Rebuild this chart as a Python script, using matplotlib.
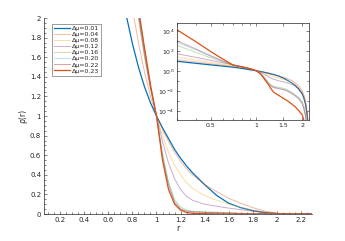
import numpy as np
import matplotlib.pyplot as plt
from matplotlib.ticker import MultipleLocator, FixedLocator, FixedFormatter, LogLocator, NullFormatter

# Datos
r = [0.3, 0.4, 0.5, 0.6, 0.7, 0.75, 0.8, 0.85, 0.9, 0.95, 1.0, 1.05, 1.1, 1.15, 1.2,
     1.25, 1.3, 1.4, 1.5, 1.6, 1.7, 1.8, 1.9, 2.0, 2.05, 2.1, 2.15, 2.2, 2.3]

dmu = [0.01, 0.04, 0.08, 0.12, 0.16, 0.20, 0.22, 0.23]

rho_001 = [8.9, 5.6, 3.9, 2.95, 2.3, 2.02, 1.74, 1.50, 1.30, 1.135, 1.0, 0.88, 0.77, 0.66, 0.57,
           0.49, 0.42, 0.30, 0.19, 0.11, 0.065, 0.035, 0.015, 0.005, 0.002, 5e-4, 5e-5, 1e-6, 1e-7]
rho_004 = [12.6, 7.5, 5.0, 3.6, 2.75, 2.45, 2.1, 1.75, 1.45, 1.2, 1.0, 0.86, 0.74, 0.63, 0.54,
           0.46, 0.40, 0.30, 0.23, 0.16, 0.11, 0.065, 0.03, 0.01, 0.004, 1e-3, 1e-4, 3e-6, 1e-7]
rho_008 = [23, 12, 7, 4.5, 3.2, 2.75, 2.35, 1.98, 1.6, 1.28, 1.0, 0.8, 0.63, 0.5, 0.4,
           0.32, 0.26, 0.19, 0.14, 0.10, 0.068, 0.04, 0.02, 0.007, 0.003, 8e-4, 8e-5, 2e-6, 1e-7]
rho_012 = [50, 22, 11, 6.3, 3.9, 3.1, 2.5, 2.02, 1.62, 1.28, 1.0, 0.74, 0.52, 0.36, 0.25,
           0.18, 0.14, 0.10, 0.08, 0.06, 0.045, 0.028, 0.014, 0.005, 0.002, 6e-4, 6e-5, 2e-6, 1e-7]
rho_016 = [355, 70, 20, 7.5, 3.6, 2.9, 2.4, 2.05, 1.65, 1.3, 1.0, 0.62, 0.33, 0.15, 0.07,
           0.04, 0.028, 0.022, 0.018, 0.013, 0.007, 0.004, 0.0022, 8e-4, 3e-4, 6e-5, 5e-6, 1e-7, 1e-8]
rho_020 = [710, 120, 28, 9, 3.8, 3.0, 2.45, 2.05, 1.66, 1.3, 1.0, 0.6, 0.31, 0.13, 0.055,
           0.032, 0.024, 0.019, 0.015, 0.011, 0.0065, 0.0035, 0.0018, 6e-4, 2e-4, 4e-5, 3e-6, 1e-7, 1e-8]
rho_022 = [1000, 150, 32, 9.5, 3.9, 3.05, 2.5, 2.06, 1.67, 1.3, 1.0, 0.58, 0.29, 0.12, 0.048,
           0.028, 0.021, 0.016, 0.013, 0.009, 0.0055, 0.003, 0.0015, 5e-4, 1.5e-4, 3e-5, 2e-6, 1e-7, 1e-8]
rho_023 = [12600, 800, 85, 15, 3.9, 3.1, 2.55, 2.1, 1.7, 1.32, 1.0, 0.55, 0.25, 0.1, 0.04,
           0.015, 0.007, 0.0035, 0.0018, 0.001, 5e-4, 2.5e-4, 1e-4, 4e-5, 1.2e-5, 1e-6, 1e-7, 1e-8, 1e-9]

series = [rho_001, rho_004, rho_008, rho_012, rho_016, rho_020, rho_022, rho_023]

# Colores por defecto de MATLAB
colores = ['#0072BD', '#D95319', '#EDB120', '#7E2F8E', '#77AC30', '#4DBEEE', '#A2142F', '#D95319']
alfas = [1, 0.4, 0.4, 0.4, 0.4, 0.4, 0.4, 1]
anchos = [0.9, 0.7, 0.7, 0.7, 0.7, 0.7, 0.7, 0.9]

gris = '#262626'
plt.rcParams['font.family'] = 'DejaVu Sans'
plt.rcParams['axes.edgecolor'] = gris
plt.rcParams['xtick.color'] = gris
plt.rcParams['ytick.color'] = gris

fig = plt.figure(figsize=(3.45, 2.41), dpi=100)

# Grafica principal
ax = fig.add_axes([0.1275, 0.112, 0.776, 0.813])
for rho, c, a, w, d in zip(series, colores, alfas, anchos, dmu):
    ax.plot(r, rho, color=c, alpha=a, lw=w, label='Δμ=%.2f' % d)

ax.set_xlim(0.065, 2.29)
ax.set_ylim(0, 2)
ax.spines['top'].set_visible(False)
ax.spines['right'].set_visible(False)
for s in ['left', 'bottom']:
    ax.spines[s].set_linewidth(0.5)
ax.xaxis.set_major_locator(MultipleLocator(0.2))
ax.yaxis.set_major_locator(MultipleLocator(0.2))
ax.xaxis.set_minor_locator(MultipleLocator(0.05))
ax.yaxis.set_minor_locator(MultipleLocator(0.05))
ax.xaxis.set_major_formatter(lambda v, p: ('%g' % round(v, 2)) if v > 0.01 else '')
ax.yaxis.set_major_formatter(lambda v, p: '%g' % round(v, 2))
ax.tick_params(which='both', direction='in', labelsize=5, width=0.4, pad=2)
ax.tick_params(which='major', length=2.5)
ax.tick_params(which='minor', length=1.3)
ax.set_xlabel('r', fontsize=5.5, color=gris, labelpad=1)
ax.set_ylabel('ρ(r)', fontsize=5.5, color=gris, labelpad=2)

leg = ax.legend(loc='upper left', bbox_to_anchor=(0.03, 0.972), fontsize=4.5,
                frameon=True, fancybox=False, handlelength=2.6, handletextpad=0.3,
                labelspacing=0.12, borderpad=0.3, borderaxespad=0)
leg.get_frame().set_edgecolor(gris)
leg.get_frame().set_linewidth(0.4)
for t in leg.get_texts():
    t.set_color(gris)

# Recuadro log-log
ins = fig.add_axes([0.513, 0.502, 0.383, 0.4025])
for rho, c, a, w in zip(series, colores, alfas, anchos):
    ins.plot(r, rho, color=c, alpha=a, lw=w)
ins.set_xscale('log')
ins.set_yscale('log')
ins.set_xlim(0.3, 2.22)
ins.set_ylim(1.2e-5, 6e4)
ins.xaxis.set_major_locator(FixedLocator([0.5, 1, 1.5, 2]))
ins.xaxis.set_major_formatter(FixedFormatter(['0.5', '1', '1.5', '2']))
ins.xaxis.set_minor_locator(FixedLocator([0.3, 0.4, 0.6, 0.7, 0.8, 0.9]))
ins.xaxis.set_minor_formatter(NullFormatter())
ins.yaxis.set_major_locator(FixedLocator([1e-4, 1e-2, 1, 1e2, 1e4]))
ins.yaxis.set_minor_locator(LogLocator(base=10, subs=[1.0], numticks=20))
ins.yaxis.set_minor_formatter(NullFormatter())
ins.tick_params(which='both', direction='in', labelsize=4.5, width=0.4, pad=2,
                top=True, right=True)
ins.tick_params(which='major', length=2)
ins.tick_params(which='minor', length=1.2)
for s in ins.spines.values():
    s.set_linewidth(0.5)

fig.savefig('out.png', dpi=100)
